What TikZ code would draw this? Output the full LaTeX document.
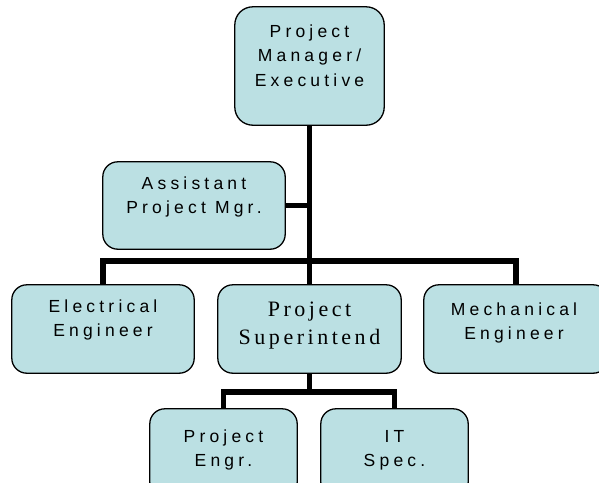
\documentclass[tikz,border=0pt]{standalone}
\usepackage{fontspec}
\newfontfamily\boxfont[LetterSpace=24]{Liberation Sans}
\newfontfamily\serfont[LetterSpace=16]{Liberation Serif}
\definecolor{boxfill}{HTML}{BBE0E3}
\begin{document}
\begin{tikzpicture}[x=1pt,y=-1pt,
  box/.style={draw=black, line width=1.3pt, fill=boxfill, rounded corners=15pt, inner sep=0pt},
  lbl/.style={anchor=base, align=center, inner sep=0pt, font=\boxfont\fontsize{17.5}{24}\selectfont},
  conn/.style={line width=5.5pt, line join=miter, black}]
\useasboundingbox (0,0) rectangle (599,482);
\clip (0,0) rectangle (599,482);
% box positions
\path
  (309.5,66)  node[minimum width=149pt, minimum height=118pt, inner sep=0pt] (pm) {}
  (194,205.5) node[minimum width=182pt, minimum height=87pt, inner sep=0pt] (apm) {}
  (103,329)   node[minimum width=182pt, minimum height=88pt, inner sep=0pt] (ee) {}
  (309.5,329) node[minimum width=183pt, minimum height=88pt, inner sep=0pt] (ps) {}
  (516,329)   node[minimum width=184pt, minimum height=88pt, inner sep=0pt] (me) {}
  (223.5,453) node[minimum width=147pt, minimum height=88pt, inner sep=0pt] (pe) {}
  (394.5,453) node[minimum width=147pt, minimum height=88pt, inner sep=0pt] (it) {};
% connectors
\coordinate (j1) at (309.5,261);
\coordinate (j2) at (309.5,392);
\draw[conn] (pm.south) -- (ps.north);
\draw[conn] (apm.east) -- (apm.east -| pm.south);
\draw[conn] (ee.north) |- (j1) -| (me.north);
\draw[conn] (ps.south) -- (j2);
\draw[conn] (pe.north) |- (j2) -| (it.north);
% boxes on top
\foreach \n in {apm,ee,ps,me,pe,it}{
  \draw[box] (\n.north west) rectangle (\n.south east);
}
\draw[box, rounded corners=18pt] (pm.north west) rectangle (pm.south east);
% labels (anchored at the baseline of their last line)
\node[lbl, font=\boxfont\fontsize{17.5}{24.5}\selectfont] (tpm) at (309.5,86) {Project\\Manager/\\Executive};
\node[lbl] (tapm) at (194,213) {Assistant\\Project Mgr.};
\node[lbl] (tee) at (103,336) {Electrical\\Engineer};
\node[lbl, font=\serfont\fontsize{22}{27.7}\selectfont] (tps) at (309.5,344.3) {Project\\Superintend};
\node[lbl] (tme) at (514,339) {Mechanical\\Engineer};
\node[lbl] (tpe) at (223.5,466) {Project\\Engr.};
\node[lbl] (tit) at (394.5,466) {IT\\Spec.};
\end{tikzpicture}
\end{document}
